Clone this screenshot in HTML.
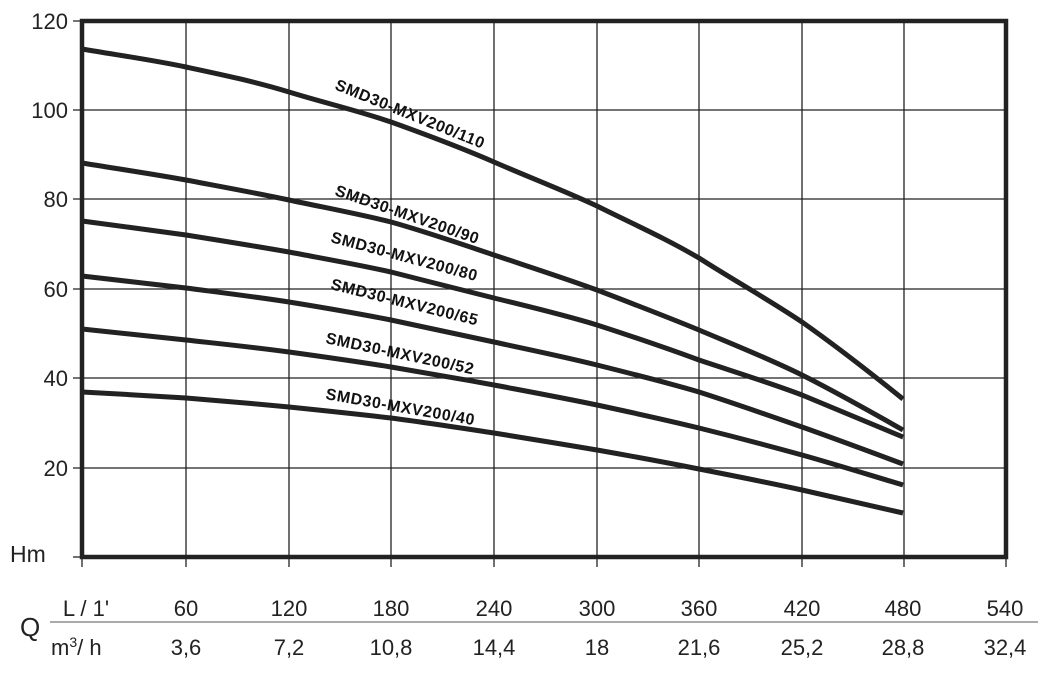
<!DOCTYPE html>
<html><head><style>body{margin:0;background:#fff}</style></head><body>
<svg width="1045" height="668" viewBox="0 0 1045 668" xmlns="http://www.w3.org/2000/svg" font-family="Liberation Sans, sans-serif">
<g stroke="#222" stroke-width="1.3">
<line x1="186" y1="21" x2="186" y2="567"/><line x1="289" y1="21" x2="289" y2="567"/><line x1="391" y1="21" x2="391" y2="567"/><line x1="494" y1="21" x2="494" y2="567"/><line x1="597" y1="21" x2="597" y2="567"/><line x1="699" y1="21" x2="699" y2="567"/><line x1="802" y1="21" x2="802" y2="567"/><line x1="904" y1="21" x2="904" y2="567"/><line x1="1006" y1="557" x2="1006" y2="567"/><line x1="82" y1="557" x2="82" y2="567"/>
<line x1="73" y1="21" x2="1006" y2="21"/><line x1="73" y1="110" x2="1006" y2="110"/><line x1="73" y1="199" x2="1006" y2="199"/><line x1="73" y1="289" x2="1006" y2="289"/><line x1="73" y1="378" x2="1006" y2="378"/><line x1="73" y1="468" x2="1006" y2="468"/><line x1="73" y1="557" x2="82" y2="557"/>
</g>
<rect x="82" y="21" width="924" height="536" fill="none" stroke="#222" stroke-width="4.5"/>
<g fill="none" stroke="#222" stroke-width="5" stroke-linejoin="round">
<path d="M82,49 C116.7,55 151.3,59.7 186,67 C220.3,74.3 254.7,81.5 289,92 C323,102.5 357,110.3 391,122 C425.3,134.3 459.7,147 494,162 C528.3,177 562.7,190 597,206 C631,223 665,238 699,258 C733.3,280 767.7,299 802,322 C836,346 869.5,372 903,399"/>
<path d="M82,163 C116.7,168.7 151.3,173.7 186,180 C220.3,186.5 254.7,192.7 289,200 C323,207.3 357,213.5 391,222 C425.3,231.5 459.7,243.5 494,255 C528.3,266.5 562.7,277.5 597,290 C631,303 665,316 699,330 C733.3,344.5 767.7,358 802,375 C836,392 869.5,411 903,430"/>
<path d="M82,221 C116.7,225.7 151.3,230 186,235 C220.3,240.5 254.7,246 289,252 C323,258.5 357,264.3 391,272 C425.3,280.7 459.7,289.5 494,298 C528.3,306.5 562.7,314.5 597,325 C631,336 665,347.5 699,360 C733.3,371.5 767.7,382 802,395 C836,409 869.5,423 903,437"/>
<path d="M82,276 C116.7,280 151.3,284 186,288 C220.3,292.5 254.7,296.7 289,302 C323,307.5 357,313.3 391,320 C425.3,327.3 459.7,334.7 494,342 C528.3,349.5 562.7,356.5 597,365 C631,373.5 665,382 699,392 C733.3,403 767.7,415 802,427 C836,439 869.5,451.5 903,464"/>
<path d="M82,329 C116.7,332.7 151.3,336.3 186,340 C220.3,343.8 254.7,347.3 289,352 C323,356.7 357,361.5 391,367 C425.3,372.7 459.7,378.7 494,385 C528.3,391.5 562.7,397.8 597,405 C631,412.3 665,419.7 699,428 C733.3,436.5 767.7,445.5 802,455 C836,464.5 869.5,475 903,485"/>
<path d="M82,392 C116.7,394 151.3,395.7 186,398 C220.3,400.7 254.7,403.7 289,407 C323,410.5 357,414 391,418 C425.3,422.5 459.7,427.8 494,433 C528.3,438.5 562.7,444.2 597,450 C631,456 665,462.3 699,469 C733.3,475.7 767.7,482.5 802,490 C836,497.5 869.5,505.3 903,513"/>
</g>
<g font-size="16" fill="#111" font-weight="bold" letter-spacing="0.6">
<text transform="translate(334,89) rotate(22)">SMD30-MXV200/110</text>
<text transform="translate(334,195) rotate(19)">SMD30-MXV200/90</text>
<text transform="translate(330,242) rotate(15)">SMD30-MXV200/80</text>
<text transform="translate(330,289) rotate(14)">SMD30-MXV200/65</text>
<text transform="translate(325,343) rotate(12)">SMD30-MXV200/52</text>
<text transform="translate(325,399) rotate(10)">SMD30-MXV200/40</text>
</g>
<g font-size="22" fill="#222" text-anchor="end">
<text x="68" y="29">120</text><text x="68" y="118">100</text><text x="68" y="207">80</text><text x="68" y="297">60</text><text x="68" y="386">40</text><text x="68" y="476">20</text>
</g>
<text x="10" y="562" font-size="23" fill="#222">Hm</text>
<line x1="50" y1="622" x2="1038" y2="622" stroke="#777" stroke-width="1.3"/>
<text x="20" y="636" font-size="26" fill="#222">Q</text>
<g font-size="22" fill="#222" text-anchor="middle">
<text x="86" y="616">L / 1'</text>
<text x="186" y="616">60</text><text x="289" y="616">120</text><text x="391" y="616">180</text><text x="494" y="616">240</text><text x="597" y="616">300</text><text x="699" y="616">360</text><text x="802" y="616">420</text><text x="903" y="616">480</text><text x="1005" y="616">540</text>
<text x="186" y="655">3,6</text><text x="289" y="655">7,2</text><text x="391" y="655">10,8</text><text x="494" y="655">14,4</text><text x="597" y="655">18</text><text x="699" y="655">21,6</text><text x="802" y="655">25,2</text><text x="903" y="655">28,8</text><text x="1005" y="655">32,4</text>
</g>
<text x="51" y="655" font-size="22" fill="#222">m<tspan font-size="14" dy="-8">3</tspan><tspan dy="8">/ h</tspan></text>
</svg>
</body></html>
